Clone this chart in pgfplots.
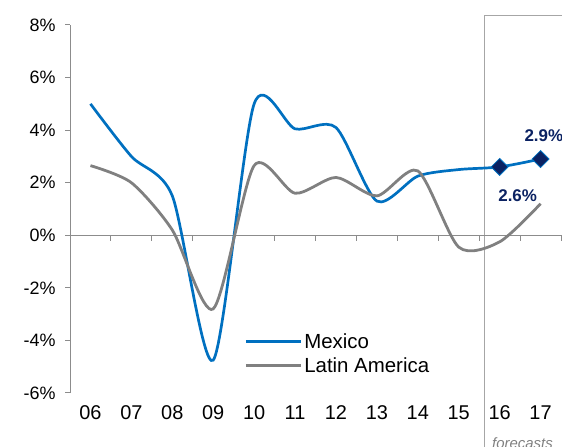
\documentclass[border=0pt]{standalone}
\usepackage{pgfplots}
\pgfplotsset{compat=1.18}
\usepackage{fontspec}
\setmainfont{Liberation Sans}
\definecolor{mxblue}{HTML}{0070C0}
\definecolor{lagray}{HTML}{808080}
\definecolor{navy}{HTML}{0B2262}
\definecolor{axgray}{HTML}{8C8C8C}
\definecolor{boxgray}{HTML}{A6A6A6}

\begin{document}
\begin{tikzpicture}[x=1bp,y=1bp]
\useasboundingbox (0,0) rectangle (562,447);
% forecast box
\draw[boxgray, line width=0.8bp] (484,-20) rectangle (620,432);
\node[anchor=north west, inner sep=0pt, text=gray, font=\fontsize{15}{15}\selectfont\itshape] at (492,10) {forecasts};
\begin{axis}[
    at={(70bp,54bp)}, anchor=south west,
    scale only axis, width=491bp, height=368bp,
    xmin=-0.5, xmax=11.5, ymin=-6, ymax=8,
    axis lines*=left,
    x axis line style={draw=none},
    y axis line style={axgray, line width=1bp},
    xtick={0,...,11},
    xticklabels={06,07,08,09,10,11,12,13,14,15,16,17},
    x tick style={draw=none},
    ytick={-6,-4,...,8},
    yticklabel={\pgfmathprintnumber{\tick}\%},
    y tick style={axgray, line width=1bp},
    tick align=outside, major tick length=5bp,
    /pgf/number format/assume math mode=true,
    xticklabel style={font=\fontsize{20}{20}\selectfont, yshift=-4bp},
    yticklabel style={font=\fontsize{18}{18}\selectfont, xshift=-6bp},
    clip=false,
    legend style={draw=none, fill=none, at={(0.355,0.168)}, anchor=north west,
        font=\fontsize{20.5}{20.5}\selectfont, row sep=4bp, inner sep=0pt},
    legend cell align=left,
    legend image code/.code={\draw[#1, line width=2.8bp] (0bp,0bp) -- (55bp,0bp);},
]
\draw[axgray, line width=1bp] (axis cs:-0.5,0) -- (axis cs:11.5,0);
\pgfplotsinvokeforeach{0.5,1.5,...,11.5}{
  \draw[axgray, line width=1bp] (axis cs:#1,0) -- ++(0pt,-6bp);
}
\addplot[mxblue, line width=2.7bp, smooth, tension=0.45] coordinates {
    (0,5.0) (1,3.0) (2,1.5) (3,-4.75) (4,5.0) (5,4.05)
    (6,4.1) (7,1.3) (8,2.25) (9,2.5) (10,2.6) (11,2.9)
};
\addlegendentry{Mexico}
\addplot[lagray, line width=2.8bp, smooth, tension=0.45] coordinates {
    (0,2.65) (1,2.0) (2,0.2) (3,-2.8) (4,2.65) (5,1.6)
    (6,2.2) (7,1.5) (8,2.45) (9,-0.45) (10,-0.25) (11,1.2)
};
\addlegendentry{Latin America}
\addplot[only marks, mark=square*, mark size=6bp,
    mark options={rotate=45, fill=navy, draw=mxblue, line width=0.8bp}, forget plot]
    coordinates {(10,2.6) (11,2.9)};
\node[text=navy, font=\fontsize{17}{17}\selectfont\bfseries] at (axis cs:11.08,3.8) {2.9\%};
\node[text=navy, font=\fontsize{17}{17}\selectfont\bfseries] at (axis cs:10.44,1.5) {2.6\%};
\end{axis}
\end{tikzpicture}
\end{document}
